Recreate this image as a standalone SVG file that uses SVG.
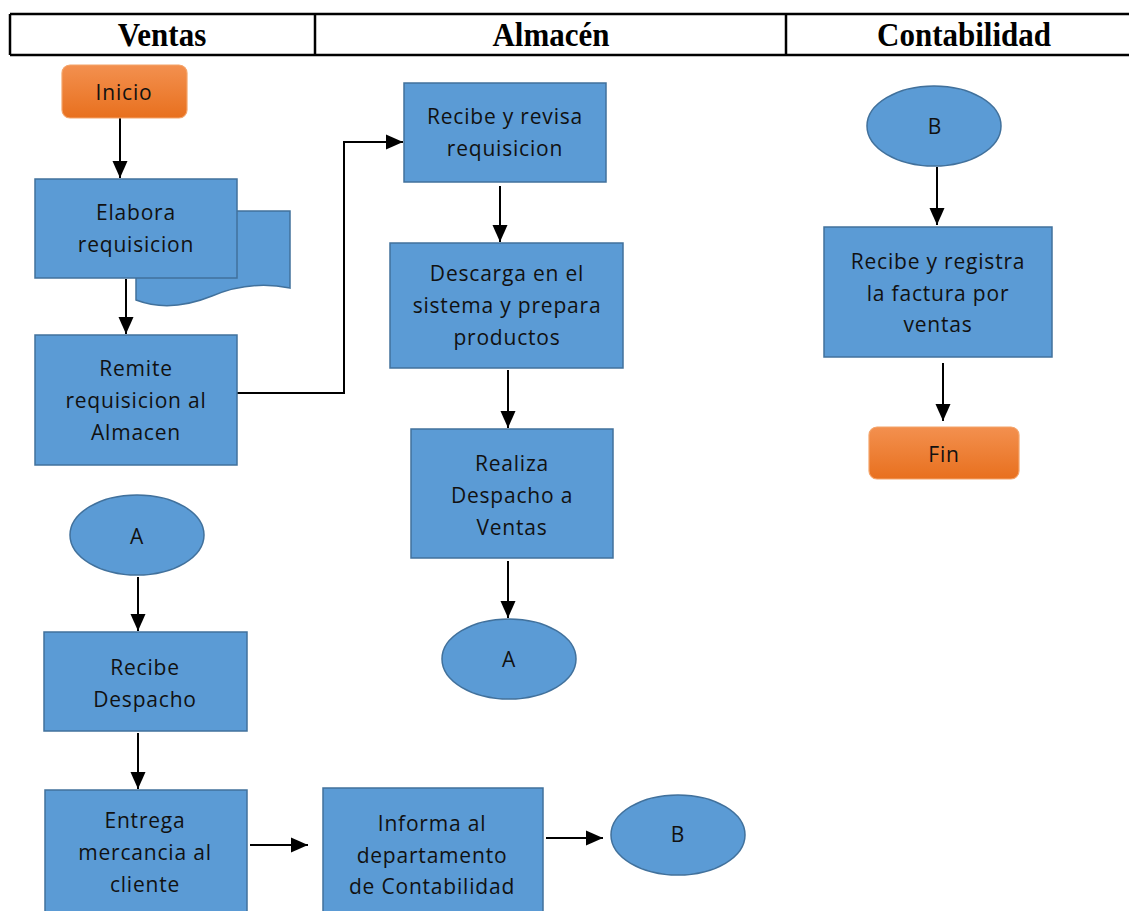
<svg xmlns="http://www.w3.org/2000/svg" width="1129" height="911" viewBox="0 0 1129 911">
  <style>
    .box { fill: #5B9BD5; stroke: #41719C; stroke-width: 1.5; }
    .term { fill: url(#orange); stroke: #F4A46A; stroke-width: 1.2; }
    .lbl { font-family: "Open Sans", "Liberation Sans", sans-serif; font-size: 21px; fill: #111; text-anchor: middle; letter-spacing: 0.8px; }
    .hdr { font-family: "Liberation Serif", serif; font-weight: bold; font-size: 31px; fill: #000; text-anchor: middle; }
    .grid { stroke: #000; stroke-width: 2.5; fill: none; }
    .edge { stroke: #000; stroke-width: 2; fill: none; marker-end: url(#arrow); }
  </style>
  <defs>
    <linearGradient id="orange" x1="0" y1="0" x2="0" y2="1">
      <stop offset="0" stop-color="#F3904F"/>
      <stop offset="1" stop-color="#E8701E"/>
    </linearGradient>
    <marker id="arrow" markerUnits="userSpaceOnUse" markerWidth="18" markerHeight="18" viewBox="0 0 18 18" refX="17" refY="9" orient="auto">
      <path d="M0,1.5 L17,9 L0,16.5 Z" fill="#000"/>
    </marker>
  </defs>
  <rect width="1129" height="911" fill="#fff"/>

  <!-- lane header -->
  <g id="header">
    <path class="grid" d="M10,14 H1129 M10,55 H1129 M10,14 V55 M315,14 V55 M786,14 V55"/>
    <text class="hdr" transform="translate(162,46) scale(1,1.1)">Ventas</text>
    <text class="hdr" transform="translate(551,46) scale(1,1.1)">Almacén</text>
    <text class="hdr" transform="translate(964,46) scale(1,1.1)">Contabilidad</text>
  </g>

  <!-- connectors -->
  <g id="connectors">
    <line class="edge" x1="120" y1="118" x2="120" y2="178"/>
    <line class="edge" x1="126" y1="279" x2="126" y2="334"/>
    <polyline class="edge" points="237,393 344,393 344,142 403,142"/>
    <line class="edge" x1="500" y1="186" x2="500" y2="242"/>
    <line class="edge" x1="508" y1="370" x2="508" y2="428"/>
    <line class="edge" x1="508" y1="561" x2="508" y2="618"/>
    <line class="edge" x1="138" y1="577" x2="138" y2="631"/>
    <line class="edge" x1="138" y1="733" x2="138" y2="789"/>
    <line class="edge" x1="250" y1="845" x2="308" y2="845"/>
    <line class="edge" x1="546" y1="838" x2="603" y2="838"/>
    <line class="edge" x1="937" y1="167" x2="937" y2="225"/>
    <line class="edge" x1="943" y1="363" x2="943" y2="421"/>
  </g>

  <!-- Ventas lane -->
  <g id="inicio">
    <rect class="term" x="62" y="65" width="125" height="53" rx="8"/>
    <text class="lbl" x="124" y="100">Inicio</text>
  </g>
  <g id="elabora">
    <path class="box" d="M136,211 H290 V288 Q250,280 212,296 Q170,313 136,300 Z"/>
    <rect class="box" x="35" y="179" width="202" height="99"/>
    <text class="lbl" x="136" y="220">Elabora</text>
    <text class="lbl" x="136" y="252">requisicion</text>
  </g>
  <g id="remite">
    <rect class="box" x="35" y="335" width="202" height="130"/>
    <text class="lbl" x="136" y="376">Remite</text>
    <text class="lbl" x="136" y="408">requisicion al</text>
    <text class="lbl" x="136" y="440">Almacen</text>
  </g>
  <g id="conector-a-ventas">
    <ellipse class="box" cx="137" cy="535" rx="67" ry="40"/>
    <text class="lbl" x="137" y="544">A</text>
  </g>
  <g id="recibe-despacho">
    <rect class="box" x="44" y="632" width="203" height="99"/>
    <text class="lbl" x="145" y="675">Recibe</text>
    <text class="lbl" x="145" y="707">Despacho</text>
  </g>
  <g id="entrega">
    <rect class="box" x="45" y="790" width="202" height="130"/>
    <text class="lbl" x="145" y="828">Entrega</text>
    <text class="lbl" x="145" y="860">mercancia al</text>
    <text class="lbl" x="145" y="892">cliente</text>
  </g>
  <g id="informa">
    <rect class="box" x="323" y="788" width="220" height="132"/>
    <text class="lbl" x="432" y="831">Informa al</text>
    <text class="lbl" x="432" y="863">departamento</text>
    <text class="lbl" x="432" y="894">de Contabilidad</text>
  </g>
  <g id="conector-b-ventas">
    <ellipse class="box" cx="678" cy="835" rx="67" ry="40"/>
    <text class="lbl" x="678" y="842">B</text>
  </g>

  <!-- Almacén lane -->
  <g id="recibe-revisa">
    <rect class="box" x="404" y="83" width="202" height="99"/>
    <text class="lbl" x="505" y="124">Recibe y revisa</text>
    <text class="lbl" x="505" y="156">requisicion</text>
  </g>
  <g id="descarga">
    <rect class="box" x="390" y="243" width="233" height="125"/>
    <text class="lbl" x="507" y="281">Descarga en el</text>
    <text class="lbl" x="507" y="313">sistema y prepara</text>
    <text class="lbl" x="507" y="345">productos</text>
  </g>
  <g id="realiza">
    <rect class="box" x="411" y="429" width="202" height="129"/>
    <text class="lbl" x="512" y="471">Realiza</text>
    <text class="lbl" x="512" y="503">Despacho a</text>
    <text class="lbl" x="512" y="535">Ventas</text>
  </g>
  <g id="conector-a-almacen">
    <ellipse class="box" cx="509" cy="659" rx="67" ry="40"/>
    <text class="lbl" x="509" y="667">A</text>
  </g>

  <!-- Contabilidad lane -->
  <g id="conector-b-contabilidad">
    <ellipse class="box" cx="934" cy="126" rx="67" ry="40"/>
    <text class="lbl" x="935" y="134">B</text>
  </g>
  <g id="recibe-registra">
    <rect class="box" x="824" y="227" width="228" height="130"/>
    <text class="lbl" x="938" y="269">Recibe y registra</text>
    <text class="lbl" x="938" y="301">la factura por</text>
    <text class="lbl" x="938" y="332">ventas</text>
  </g>
  <g id="fin">
    <rect class="term" x="869" y="427" width="150" height="52" rx="8"/>
    <text class="lbl" x="944" y="462">Fin</text>
  </g>
</svg>
